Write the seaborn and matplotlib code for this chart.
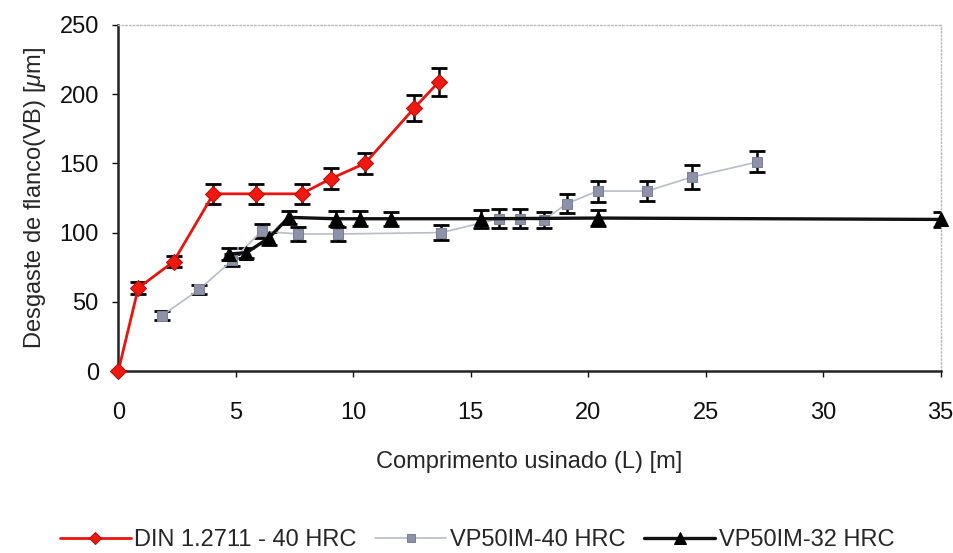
import numpy as np
import pandas as pd
import matplotlib
matplotlib.use('Agg')
import matplotlib.pyplot as plt
import seaborn as sns

# Values (flank wear VB in um vs machined length L in m)
din_x = [0, 0.85, 2.35, 4.05, 5.85, 7.8, 9.05, 10.5, 12.6, 13.65]
din_y = [0, 60, 79, 128, 128, 128, 139, 150, 190, 209]
din_err = [0, 4, 4, 7, 7, 7, 7.5, 7.5, 9.5, 10]

vp40_x = [1.85, 3.45, 4.85, 6.1, 7.65, 9.35, 13.75, 16.2, 17.1, 18.1, 19.1, 20.4, 22.5, 24.4, 27.2]
vp40_y = [40, 59, 80, 101, 99, 99, 100, 110, 110, 109, 121, 130, 130, 140, 151]
vp40_err = [3.3, 3.4, 4.2, 5, 5.2, 4.8, 5.4, 6.9, 7, 5.7, 6.6, 7.6, 7.2, 8.5, 7.6]

vp32_x = [4.7, 5.45, 6.4, 7.25, 9.25, 10.3, 11.6, 15.45, 20.4, 35]
vp32_y = [84.5, 85.5, 96, 111, 110, 110, 110, 110, 110.5, 109.5]
vp32_err = [4.2, 3.6, 4.6, 4.8, 5.4, 5.4, 5.2, 6.6, 6, 5.4]

labels = ['DIN 1.2711 - 40 HRC', 'VP50IM-40 HRC', 'VP50IM-32 HRC']

sns.set_style('white')
plt.rcParams['font.family'] = ['Liberation Sans', 'DejaVu Sans']
plt.rcParams['mathtext.fontset'] = 'custom'
plt.rcParams['mathtext.it'] = 'Liberation Sans:italic'
plt.rcParams['mathtext.rm'] = 'Liberation Sans'

df = pd.concat([
    pd.DataFrame({'L': din_x, 'VB': din_y, 'err': din_err, 'serie': labels[0]}),
    pd.DataFrame({'L': vp40_x, 'VB': vp40_y, 'err': vp40_err, 'serie': labels[1]}),
    pd.DataFrame({'L': vp32_x, 'VB': vp32_y, 'err': vp32_err, 'serie': labels[2]}),
], ignore_index=True)

styles = {
    labels[0]: dict(color='#e8150f', marker='D', ms=8, lw=2.0, mec='#b01010', mfc='#f0190f'),
    labels[1]: dict(color='#b8bcc8', marker='s', ms=7, lw=1.2, mec='#7c8098', mfc='#8e92a8'),
    labels[2]: dict(color='#111111', marker='^', ms=10, lw=2.4, mec='#000000', mfc='#000000'),
}

fig = plt.figure(figsize=(9.54, 5.53), dpi=100)
ax = fig.add_axes([0.124, 0.329, 0.862, 0.626])

# error bars first, then lines on top
for name, g in df.groupby('serie', sort=False):
    ax.errorbar(g['L'], g['VB'], yerr=g['err'], fmt='none', ecolor='black',
                elinewidth=1.8, capsize=6, capthick=2.0, zorder=2)

sns.lineplot(data=df, x='L', y='VB', hue='serie', sort=False, estimator=None,
             palette={k: v['color'] for k, v in styles.items()}, ax=ax, legend=False, zorder=3)

for line, name in zip(ax.get_lines()[-3:], labels):
    st = styles[name]
    line.set_marker(st['marker'])
    line.set_markersize(st['ms'])
    line.set_linewidth(st['lw'])
    line.set_markeredgecolor(st['mec'])
    line.set_markerfacecolor(st['mfc'])
    line.set_label(name)
    line.set_clip_on(False)

ax.set_xlim(0, 35)
ax.set_ylim(0, 250)
ax.set_xticks(range(0, 36, 5))
ax.set_yticks(range(0, 251, 50))
ax.tick_params(axis='both', labelsize=17, length=4, width=1, direction='out',
               bottom=True, left=True, colors='#111111')
ax.tick_params(axis='x', pad=18)
ax.tick_params(axis='y', pad=10)
ax.set_xlabel('Comprimento usinado (L) [m]', fontsize=17, labelpad=20)
ax.set_ylabel('Desgaste de flanco(VB) [$\\mu$m]', fontsize=17, labelpad=8)

for side in ['left', 'bottom']:
    ax.spines[side].set_color('#222222')
    ax.spines[side].set_linewidth(1.8)
for side in ['top', 'right']:
    ax.spines[side].set_color('#bbbbbb')
    ax.spines[side].set_linewidth(1.0)
    ax.spines[side].set_linestyle(':')

fig.legend(handles=ax.get_lines()[-3:], labels=labels, loc='lower center',
           bbox_to_anchor=(0.5, -0.035), ncol=3, frameon=False, fontsize=17,
           handlelength=3.0, columnspacing=0.8, handletextpad=0.15, markerscale=0.8)

fig.savefig('out.png', dpi=100)
